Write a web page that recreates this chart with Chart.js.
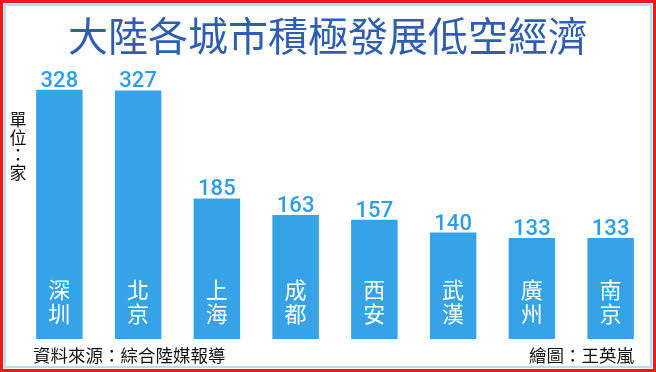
<!DOCTYPE html>
<html>
<head>
<meta charset="utf-8">
<script src="https://cdn.jsdelivr.net/npm/chart.js@4"></script>
<style>
  html, body { margin: 0; padding: 0; background: #fff; }
  #wrap { width: 656px; height: 372px; position: relative; }
</style>
</head>
<body>
<div id="wrap"><canvas id="chart" width="656" height="372"></canvas></div>
<script>
// données
const villes = ["深圳", "北京", "上海", "成都", "西安", "武漢", "廣州", "南京"];
const nombres = [328, 327, 185, 163, 157, 140, 133, 133];
const titre = "大陸各城市積極發展低空經濟";
const unite = ["單", "位", "：", "家"];
const source = "資料來源：綜合陸媒報導";
const auteur = "繪圖：王英嵐";

const CJK = '"Noto Sans CJK TC", "Noto Sans CJK SC", sans-serif';
const bleuBarre = "#35a3e6";
const bleuTexte = "#2c9fe4";

//---------------------------------------------------------------------
// PLUGIN : textes, étiquettes et cadre
//---------------------------------------------------------------------
const decor = {
    id: "decor",
    beforeDraw(chart) {
        const ctx = chart.ctx;
        ctx.save();
        ctx.fillStyle = "#fff";
        ctx.fillRect(0, 0, chart.width, chart.height);
        ctx.restore();
    },
    afterDatasetsDraw(chart) {
        const ctx = chart.ctx;
        const meta = chart.getDatasetMeta(0);
        ctx.save();

        // valeurs au-dessus des barres
        ctx.font = '500 22px Roboto, "Noto Sans", sans-serif';
        ctx.fillStyle = bleuTexte;
        ctx.textAlign = "center";
        ctx.textBaseline = "alphabetic";
        meta.data.forEach((bar, i) => {
            ctx.fillText(String(nombres[i]), bar.x, bar.y - 3);
        });

        // noms des villes dans les barres (vertical)
        ctx.font = "400 22px " + CJK;
        ctx.fillStyle = "#fff";
        ctx.textBaseline = "middle";
        villes.forEach((v, i) => {
            const x = chart.scales.x.getPixelForValue(i);
            [...v].forEach((c, k) => {
                ctx.fillText(c, x, 290 + k * 23.5);
            });
        });

        // titre
        ctx.font = "400 40px " + CJK;
        ctx.fillStyle = "#2e5ead";
        ctx.fillText(titre, 328, 36);

        // unité
        ctx.font = "400 17px " + CJK;
        ctx.fillStyle = "#111";
        unite.forEach((c, k) => {
            ctx.fillText(c, 18, 120 + k * 17.5);
        });

        // sources
        ctx.font = "400 17.5px " + CJK;
        ctx.textAlign = "left";
        ctx.fillText(source, 33, 355);
        ctx.textAlign = "right";
        ctx.fillText(auteur, 634, 355);

        // cadre
        ctx.strokeStyle = "#b9dcf5";
        ctx.lineWidth = 2;
        ctx.strokeRect(5, 5, 646, 362);
        ctx.strokeStyle = "#f01818";
        ctx.lineWidth = 3;
        ctx.strokeRect(1.5, 1.5, 653, 369);
        ctx.restore();
    }
};

new Chart(document.getElementById("chart"), {
    type: "bar",
    data: {
        labels: villes,
        datasets: [{
            data: nombres,
            backgroundColor: bleuBarre,
            borderWidth: 0,
            barPercentage: 0.59,
            categoryPercentage: 1
        }]
    },
    options: {
        responsive: false,
        animation: false,
        layout: { padding: { left: 20, right: 6, top: 35, bottom: 33 } },
        plugins: {
            legend: { display: false },
            tooltip: { enabled: false }
        },
        scales: {
            x: { display: false, grid: { display: false } },
            y: { display: false, min: 0, max: 400, grid: { display: false } }
        }
    },
    plugins: [decor]
});
</script>
</body>
</html>
